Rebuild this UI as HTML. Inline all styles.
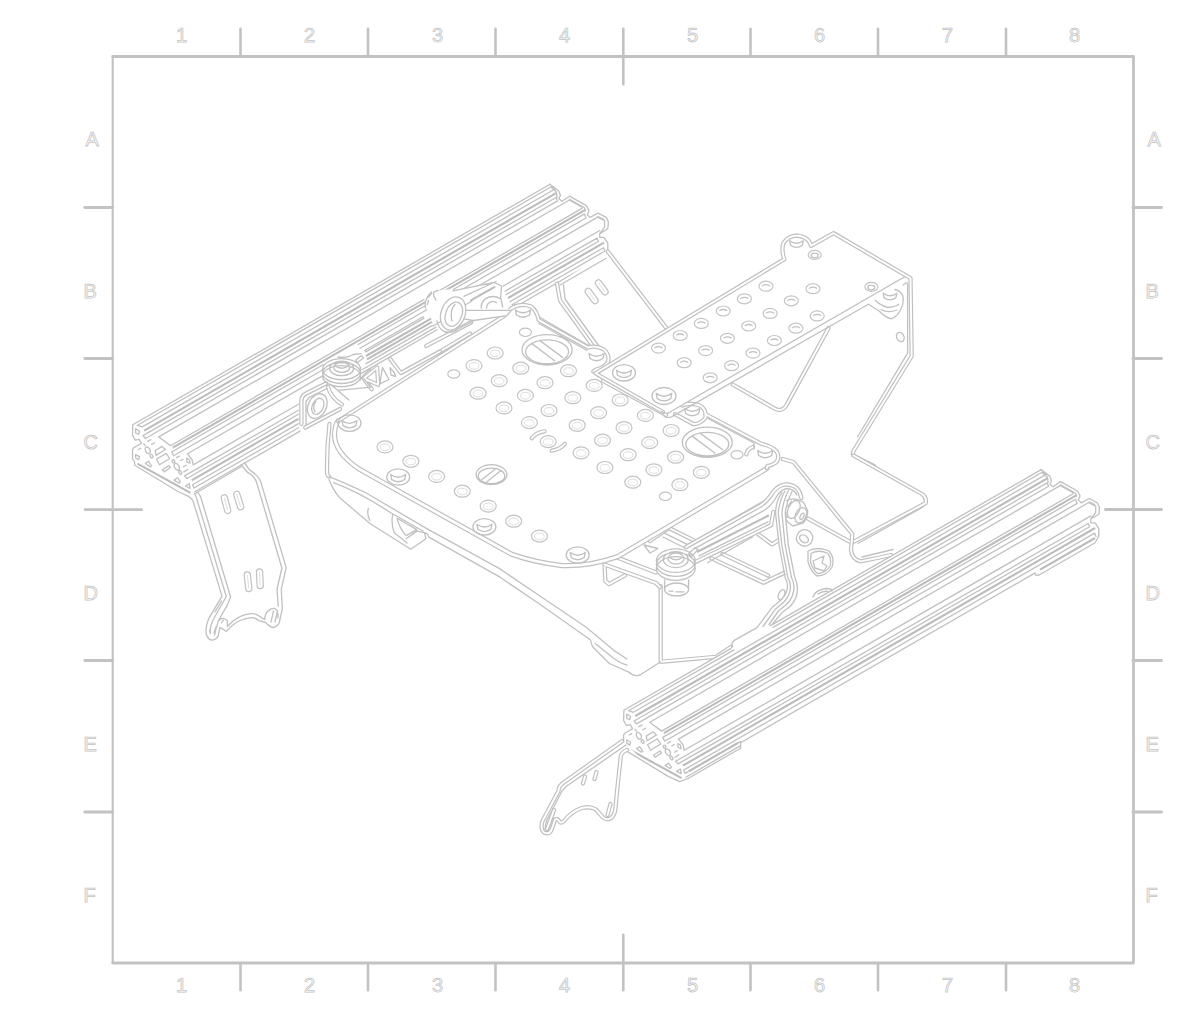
<!DOCTYPE html>
<html><head><meta charset="utf-8">
<style>
html,body{margin:0;padding:0;background:#fff;}
body{width:1190px;height:1020px;overflow:hidden;position:relative;}
svg{position:absolute;left:0;top:0;}
.fr{fill:none;stroke:#c2c2c2;stroke-width:2.6;stroke-linecap:round;stroke-linejoin:round;}
.lb text{font-family:"Liberation Sans",Arial,sans-serif;font-size:20px;fill:#fafafa;stroke:#c4c4c4;stroke-width:0.75;}
.o{fill:none;stroke:#c0c0c0;stroke-width:4.3;stroke-linecap:round;stroke-linejoin:round;}
.i{fill:none;stroke:#fff;stroke-width:1.9;stroke-linecap:round;stroke-linejoin:round;}
.o2{fill:none;stroke:#c0c0c0;stroke-width:5.2;stroke-linecap:round;stroke-linejoin:round;}
.i2{fill:none;stroke:#fff;stroke-width:2.8;stroke-linecap:round;stroke-linejoin:round;}
.h{fill:none;stroke:#c4c4c4;stroke-width:1.2;}
.t{fill:none;stroke:#c1c1c1;stroke-width:1.32;stroke-linecap:round;stroke-linejoin:round;}
.so{fill:none;stroke:#c2c2c2;stroke-width:7.4;stroke-linecap:round;}
.si{fill:none;stroke:#fff;stroke-width:5;stroke-linecap:round;}
.f{fill:none;stroke:#dedede;stroke-width:1;}
.k{fill:none;stroke:#bcbcbc;stroke-width:2.1;stroke-linecap:butt;}
</style></head><body>
<svg width="1190" height="1020" viewBox="0 0 1190 1020">
<!-- FRAME -->
<g class="fr">
<path d="M112.7 56.5H1133.5V963H112.7" stroke-width="2.8"/><path d="M112.7 56.5V963" stroke-width="2.1"/>
<path d="M240.5 28.8V56M368 28.8V56M495.5 28.8V56M623.3 28.8V84.3M750.5 28.8V56M878 28.8V56M1006 28.8V56"/>
<path d="M240.5 963V990.3M368 963V990.3M495.5 963V990.3M623.3 934.8V990.3M750.5 963V990.3M878 963V990.3M1006 963V990.3"/>
<path stroke-width="2.9" d="M84.8 207.5H112.7M84.8 358.5H112.7M85 509.6H141.7M84.8 660.5H112.7M84.8 812H112.7"/>
<path stroke-width="2.9" d="M1133 207.5H1161.5M1133 358.5H1161.5M1105.5 509.5H1161.5M1133 660.5H1161.5M1133 812H1161.5"/>
</g>
<g class="lb">
<text x="176" y="42">1</text><text x="304" y="42">2</text><text x="432" y="42">3</text><text x="559" y="42">4</text><text x="687" y="42">5</text><text x="814" y="42">6</text><text x="942" y="42">7</text><text x="1069" y="42">8</text>
<text x="176" y="992">1</text><text x="304" y="992">2</text><text x="432" y="992">3</text><text x="559" y="992">4</text><text x="687" y="992">5</text><text x="814" y="992">6</text><text x="942" y="992">7</text><text x="1069" y="992">8</text>
<text x="85.4" y="146">A</text><text x="83.6" y="297.5">B</text><text x="83.6" y="448.5">C</text><text x="83.6" y="599.5">D</text><text x="83.6" y="750.5">E</text><text x="83.6" y="902">F</text>
<text x="1147.6" y="146">A</text><text x="1145.6" y="297.5">B</text><text x="1145.6" y="448.5">C</text><text x="1145.6" y="599.5">D</text><text x="1145.6" y="750.5">E</text><text x="1145.6" y="902">F</text>
</g>
<!-- DRAWING -->
<g id="dw">
<g>
<path class="t" d="M132.8 424.8 L549.6 184.5M137.5 425.3 L552.0 186.3M142.3 426.9 L555.0 189.0M143.0 435.6 L556.0 197.5M145.4 438.5 L557.5 200.9M158.7 436.9 L569.5 200.0M170.5 445.7 L582.0 208.4M171.7 452.0 L323.0 364.7M358.0 344.5 L584.5 213.9M173.6 455.8 L322.0 370.2M360.0 348.3 L586.0 218.0M187.4 453.7 L322.0 376.1M470.0 290.8 L598.1 216.9M193.2 464.9 L298.4 404.2M503.0 286.2 L599.7 230.5M184.6 475.9 L298.4 410.3M505.0 291.2 L597.0 238.1M187.0 478.5 L298.4 414.3M506.0 294.6 L598.5 241.3M192.5 484.7 L298.4 423.6M510.0 301.6 L603.5 247.7M194.0 488.0 L298.4 427.8M512.0 304.7 L605.0 251.0M194.8 491.8 L300.0 431.1M514.0 307.7 L607.8 253.6M137.5 425.3 L142.3 426.9M552.0 186.3 L555.0 189.0M143.0 435.6 L145.4 438.5M556.0 197.5 L557.5 200.9M171.7 452.0 L173.6 455.8M584.5 213.9 L586.0 218.0M184.6 475.9 L187.0 478.5M597.0 238.1 L598.5 241.3M192.5 484.7 L194.0 488.0M603.5 247.7 L605.0 251.0M158.7 436.9 L170.5 445.7M187.4 453.7 L192.0 459.5 L193.2 464.9M549.6 184.0 L558.8 191.0 L560.4 195.3 L558.8 198.6 L562.0 201.3 L569.5 196.2 L586.3 205.6 L589.0 210.4 L587.3 214.7 L590.0 217.4 L598.1 213.1 L606.2 217.4 L608.4 221.8 L607.8 228.8 L599.7 233.6 L599.7 237.4 L604.0 237.4 L607.8 243.3 L607.8 250.5M551.5 187.5 L556.3 191.8 L557.0 197.0M569.5 199.3 L584.5 207.8 L585.5 211.0M598.1 216.5 L603.5 219.3M569.5 200.2 L582.0 207.2M598.1 217.4 L604.6 220.7 L604.6 227.1 L599.7 233.6M132.8 424.8 L132.5 435.0 L135.2 440.1 L139.1 439.3 L141.5 443.2 L133.6 447.9 L132.5 449.5 L132.5 458.9 L134.4 461.3 L134.8 465.2 L177.1 491.0 L188.5 496.3M135.6 428.7 L139.5 431.1 L138.7 434.2 L135.6 433.0ZM135.6 454.6 L139.5 456.6 L138.7 459.7 L135.6 457.7ZM155.2 450.7 L161.9 446.4 L165.4 449.5 L156.0 455.4ZM156.4 459.3 L166.2 453.4 L169.7 458.5 L159.5 464.8ZM162.3 469.9 L168.9 465.6 L170.5 467.5 L164.2 471.9ZM145.4 463.2 L148.5 461.3 L151.7 466.0 L150.1 466.8ZM174.0 480.1 L177.5 477.7 L180.3 481.7 L179.1 483.2ZM185.4 486.0 L189.3 483.6 L190.1 488.3ZM186.6 458.1 L189.3 459.7 L190.1 463.2 L187.0 462.1ZM145.8 451.4A2.2 3.4 -30 1 0 149.7 449.2A2.2 3.4 -30 1 0 145.8 451.4ZM174.9 467.9A2.2 3.4 -30 1 0 178.7 465.7A2.2 3.4 -30 1 0 174.9 467.9ZM150.5 456.8A1.2 1.6 -30 1 0 152.5 455.6A1.2 1.6 -30 1 0 150.5 456.8ZM179.3 473.2A1.2 1.6 -30 1 0 181.3 472.0A1.2 1.6 -30 1 0 179.3 473.2ZM172.4 461.9A1.2 1.6 -30 1 0 174.5 460.7A1.2 1.6 -30 1 0 172.4 461.9ZM143.8 444.0 L145.4 445.6M147.7 441.3 L150.9 439.7M151.7 444.4 L154.4 442.8M138.3 449.5 L140.7 448.3M176.4 457.7 L179.5 456.2M180.7 460.5 L183.0 459.3M183.4 466.8 L186.2 465.2M183.8 471.9 L187.7 469.5"/>
<path class="k" d="M144.2 430.6 L556.6 192.8M172.8 447.7 L585.2 209.9M191.7 480.3 L298.4 418.8M508.0 298.0 L604.0 242.6M137.4 463.6 L190.5 492.8"/>
</g>
<g>
<path fill="#fff" stroke="none" d="M608.0 250.0 L666.0 327.6 L614.3 357.9 L594.1 347.8 L561.3 303.7 L558.8 283.5Z"/>
<path class="o" d="M607.8 251.5 L666.0 327.6M557.0 283.7 L560.0 300.4 L595.0 349.0M514.4 306.5 L538.0 318.0 L591.0 348.5"/>
<path class="i" d="M607.8 251.5 L666.0 327.6M557.0 283.7 L560.0 300.4 L595.0 349.0M514.4 306.5 L538.0 318.0 L591.0 348.5"/>
<path class="so" d="M588.3 291.5L595.0 300.5M598.5 283.0L605.0 291.8"/>
<path class="si" d="M588.3 291.5L595.0 300.5M598.5 283.0L605.0 291.8"/>
<path class="f" d="M588.3 291.5L595.0 300.5M598.5 283.0L605.0 291.8"/>
<path class="t" d="M560.0 285.0 L606.3 258.2M563.5 285.0 L565.0 299.0 L599.0 346.0"/>
</g>
<g>
<path fill="#fff" stroke="none" d="M193.5 495.0 L222.0 596.1 L208.7 618.6 L206.3 634.3 L212.6 640.2 L218.0 636.3 L220.0 627.5 L226.4 631.4 L236.2 622.5 L251.9 617.6 L258.7 620.6 L265.6 622.5 L273.4 627.5 L279.3 622.5 L282.3 608.8 L281.3 589.2 L286.2 567.6 L260.5 480.9 L249.7 470.1 L244.3 464.5Z"/>
<path class="so" d="M224.3 497.8L227.7 510.4M236.7 494.2L240.6 506.8M247.3 575.0L248.8 588.5M259.5 572.0L260.2 585.5"/>
<path class="si" d="M224.3 497.8L227.7 510.4M236.7 494.2L240.6 506.8M247.3 575.0L248.8 588.5M259.5 572.0L260.2 585.5"/>
<path class="f" d="M224.3 497.8L227.7 510.4M236.7 494.2L240.6 506.8M247.3 575.0L248.8 588.5M259.5 572.0L260.2 585.5"/>
<path class="t" d="M188.5 496.3Q192 498 193.2 501.5L222 596.1L208.7 618.6Q205 628 206.3 634.3Q208 640 212.6 640.2Q217 639 218 636.3L220 627.5L226.4 631.4Q231 626 236.2 622.5Q244 618 251.9 617.6Q256 618 258.7 620.6L265.6 622.5Q270 627 273.4 627.5Q278 626 279.3 622.5L282.3 608.8L281.3 589.2L286.2 567.6L260.5 480.9Q258 475 249.7 470.1L244.3 462.5M194.5 493.5Q196 495 196.8 499L226.3 596.5L213 620Q209.5 628 210.3 633.5M197.5 492.5Q200 494.5 201 498L230.6 597L227.4 604.9L218.5 620.6Q216 628 214.5 635M218.5 620.6L221.5 618.6Q225 617.5 227.4 620.6L227.4 626.5Q232 621 238.1 617.6Q246 613.5 252.8 613.7Q256.5 614 258.7 615.7L264.6 619.6Q265 614 267.5 611.5Q271 607.5 275 608.5Q278.5 611 278 618M241.1 464.7L247.5 472.3Q254 475.5 256.5 482L281.9 568L277 589.5L278.3 606M194.7 493.8 L241.1 466.7M221.5 623l2-3M271 622l2.5-11M275 622l2.5-11M209.5 632l1.5-6M214 633l2-6M221.5 601l-6.5 11"/>
</g>
<g>
<path fill="#fff" stroke="none" d="M328.9 425.2 L327.1 475.6 L331.4 484.4 L369.2 523.5 L407.0 548.7 L424.7 538.7 L426.0 536.1 L511.7 586.5 L562.1 619.3 L594.9 642.0 L628.3 671.8 L638.4 675.6 L660.7 661.8 L716.1 656.8 L731.2 646.7 L781.7 601.3 L794.3 581.2 L779.1 523.2 L771.6 513.1 L766.8 468.1 L617.8 556.0 L562.1 565.1 L511.7 553.8 L360.4 469.3 L335.2 420.2Z"/>
<path class="o" d="M329.5 424Q326.5 450 327.1 473Q327.3 476 329.1 476.6M660.7 586.2 L660.7 661.8 L716.1 656.8 L731.2 646.7"/>
<path class="i" d="M329.5 424Q326.5 450 327.1 473Q327.3 476 329.1 476.6M660.7 586.2 L660.7 661.8 L716.1 656.8 L731.2 646.7"/>
<path class="t" d="M329.1 476.6Q345 483 365.4 492.5L425.9 528.1L500 568.9L538.8 595.3L585.9 627L614.1 650.6L627 659M424.4 532.6L427.4 534.1L428.9 537.2L500 577.2L538.8 603.5L590.6 640Q591.3 645 592.9 647L609.4 663.5L628.3 671.8Q634 677 640 675L660.7 661.8M595.3 643.5L612 657Q620 663.5 627 665M329.1 479.7Q333 490 339.7 497.8L369.9 523.5L410.8 549.3L425.9 538.7L424.4 532.6L416.8 531.1L406.2 538.7M333.6 482.7Q360 492.5 391.1 513L423 531M368.4 508.4Q366.5 514 369.9 520.5M392.6 514.5Q391 524 394.1 532.6L407 543M397.2 518.2Q399 528 406.2 535.6L416.8 529.6Z"/>
</g>
<g>
<path class="o" d="M604.4 564.5 L656.0 583.0 L659.9 587.2M617.3 557.6 L656.0 572.5M604.6 567.0 L605.4 581.0 L609.0 584.2 L625.0 575.3M669.0 528.0 L696.3 541.6 L770.0 499.0M650.0 541.0 L668.0 528.5M711.5 558.4 L763.5 582.7 L786.0 572.0M722.4 553.9 L768.0 575.5M758.2 534.2 L772.2 544.4 L778.7 540.1"/>
<path class="i" d="M604.4 564.5 L656.0 583.0 L659.9 587.2M617.3 557.6 L656.0 572.5M604.6 567.0 L605.4 581.0 L609.0 584.2 L625.0 575.3M669.0 528.0 L696.3 541.6 L770.0 499.0M650.0 541.0 L668.0 528.5M711.5 558.4 L763.5 582.7 L786.0 572.0M722.4 553.9 L768.0 575.5M758.2 534.2 L772.2 544.4 L778.7 540.1"/>
<path class="t" d="M664.4 533.2 L688.7 545.2M663.0 537.0 L686.0 548.5M644.0 545.0 L650.0 553.0 L658.0 548.5ZM707.5 562.7 L752.8 536.8"/>
</g>
<g>
<path fill="#fff" stroke="none" d="M338.0 421.0 L504.6 315.6 L512.9 308.0 L520.0 305.0 L530.0 306.5 L535.5 312.0 L538.7 320.1 L588.0 347.5 L596.0 346.5 L605.0 350.0 L609.0 357.0 L607.0 365.0 L603.0 380.8 L666.0 414.9 L675.0 414.2 L680.0 405.5 L696.2 403.5 L705.0 409.0 L705.3 414.2 L750.9 438.5 L761.5 443.8 L772.0 447.0 L778.0 454.0 L776.7 462.0 L767.6 465.8 L766.8 468.1 L617.8 556.0 L600.0 561.5 L580.0 564.5 L562.1 565.1 L540.0 562.0 L511.7 553.8 L360.4 469.3 L346.0 460.0 L338.0 449.0 L334.0 437.8ZM466.0 365.6A8.0 6.0 0 1 0 482.0 365.6A8.0 6.0 0 1 0 466.0 365.6ZM487.2 353.0A8.0 6.0 0 1 0 503.2 353.0A8.0 6.0 0 1 0 487.2 353.0ZM512.8 368.2A8.0 6.0 0 1 0 528.8 368.2A8.0 6.0 0 1 0 512.8 368.2ZM491.2 380.7A8.0 6.0 0 1 0 507.2 380.7A8.0 6.0 0 1 0 491.2 380.7ZM470.0 393.2A8.0 6.0 0 1 0 486.0 393.2A8.0 6.0 0 1 0 470.0 393.2ZM517.4 395.4A8.0 6.0 0 1 0 533.4 395.4A8.0 6.0 0 1 0 517.4 395.4ZM496.0 407.9A8.0 6.0 0 1 0 512.0 407.9A8.0 6.0 0 1 0 496.0 407.9ZM521.4 422.6A8.0 6.0 0 1 0 537.4 422.6A8.0 6.0 0 1 0 521.4 422.6ZM537.0 382.7A8.0 6.0 0 1 0 553.0 382.7A8.0 6.0 0 1 0 537.0 382.7ZM541.0 410.5A8.0 6.0 0 1 0 557.0 410.5A8.0 6.0 0 1 0 541.0 410.5ZM377.0 446.9A8.0 6.0 0 1 0 393.0 446.9A8.0 6.0 0 1 0 377.0 446.9ZM402.9 461.3A8.0 6.0 0 1 0 418.9 461.3A8.0 6.0 0 1 0 402.9 461.3ZM428.6 476.4A8.0 6.0 0 1 0 444.6 476.4A8.0 6.0 0 1 0 428.6 476.4ZM454.3 491.2A8.0 6.0 0 1 0 470.3 491.2A8.0 6.0 0 1 0 454.3 491.2ZM480.2 506.1A8.0 6.0 0 1 0 496.2 506.1A8.0 6.0 0 1 0 480.2 506.1ZM505.7 521.2A8.0 6.0 0 1 0 521.7 521.2A8.0 6.0 0 1 0 505.7 521.2ZM531.4 536.1A8.0 6.0 0 1 0 547.4 536.1A8.0 6.0 0 1 0 531.4 536.1ZM590.6 412.7A8.0 6.0 0 1 0 606.6 412.7A8.0 6.0 0 1 0 590.6 412.7ZM569.2 425.3A8.0 6.0 0 1 0 585.2 425.3A8.0 6.0 0 1 0 569.2 425.3ZM594.5 440.2A8.0 6.0 0 1 0 610.5 440.2A8.0 6.0 0 1 0 594.5 440.2ZM573.0 452.8A8.0 6.0 0 1 0 589.0 452.8A8.0 6.0 0 1 0 573.0 452.8ZM596.9 467.5A8.0 6.0 0 1 0 612.9 467.5A8.0 6.0 0 1 0 596.9 467.5ZM560.5 370.7A8.0 6.0 0 1 0 576.5 370.7A8.0 6.0 0 1 0 560.5 370.7ZM586.2 385.4A8.0 6.0 0 1 0 602.2 385.4A8.0 6.0 0 1 0 586.2 385.4ZM564.8 397.7A8.0 6.0 0 1 0 580.8 397.7A8.0 6.0 0 1 0 564.8 397.7ZM612.2 400.0A8.0 6.0 0 1 0 628.2 400.0A8.0 6.0 0 1 0 612.2 400.0ZM637.4 415.4A8.0 6.0 0 1 0 653.4 415.4A8.0 6.0 0 1 0 637.4 415.4ZM616.0 427.7A8.0 6.0 0 1 0 632.0 427.7A8.0 6.0 0 1 0 616.0 427.7ZM663.1 430.5A8.0 6.0 0 1 0 679.1 430.5A8.0 6.0 0 1 0 663.1 430.5ZM641.7 442.6A8.0 6.0 0 1 0 657.7 442.6A8.0 6.0 0 1 0 641.7 442.6ZM620.2 454.7A8.0 6.0 0 1 0 636.2 454.7A8.0 6.0 0 1 0 620.2 454.7ZM667.6 457.2A8.0 6.0 0 1 0 683.6 457.2A8.0 6.0 0 1 0 667.6 457.2ZM645.9 469.8A8.0 6.0 0 1 0 661.9 469.8A8.0 6.0 0 1 0 645.9 469.8ZM624.8 482.2A8.0 6.0 0 1 0 640.8 482.2A8.0 6.0 0 1 0 624.8 482.2ZM693.3 472.3A8.0 6.0 0 1 0 709.3 472.3A8.0 6.0 0 1 0 693.3 472.3ZM671.9 484.7A8.0 6.0 0 1 0 687.9 484.7A8.0 6.0 0 1 0 671.9 484.7ZM540.2 441.6A8.0 6.0 0 1 0 556.2 441.6A8.0 6.0 0 1 0 540.2 441.6ZM447.8 374.0A6.0 4.2 0 1 0 459.8 374.0A6.0 4.2 0 1 0 447.8 374.0ZM519.4 332.3A6.0 4.2 0 1 0 531.4 332.3A6.0 4.2 0 1 0 519.4 332.3ZM659.4 496.3A6.0 4.2 0 1 0 671.4 496.3A6.0 4.2 0 1 0 659.4 496.3ZM731.0 454.8A6.0 4.2 0 1 0 743.0 454.8A6.0 4.2 0 1 0 731.0 454.8ZM338.0 423.1A11.5 8.2 0 1 0 361.0 423.1A11.5 8.2 0 1 0 338.0 423.1ZM386.7 477.0A11.5 8.2 0 1 0 409.7 477.0A11.5 8.2 0 1 0 386.7 477.0ZM472.9 526.8A11.5 8.2 0 1 0 495.9 526.8A11.5 8.2 0 1 0 472.9 526.8ZM566.2 555.0A11.5 8.2 0 1 0 589.2 555.0A11.5 8.2 0 1 0 566.2 555.0ZM522.1 349.8A25.0 15.2 0 1 0 572.1 349.8A25.0 15.2 0 1 0 522.1 349.8ZM682.3 442.2A25.0 15.0 0 1 0 732.3 442.2A25.0 15.0 0 1 0 682.3 442.2ZM476.1 474.6A15.4 10.0 0 1 0 506.9 474.6A15.4 10.0 0 1 0 476.1 474.6Z"/>
<path class="o2" d="M766.8 468.6L617.8 556.5Q590 566.5 562.1 565.6Q535 562.5 511.7 554.3L360.4 469.8Q334 452.5 334.5 434Q335 425 338 421"/>
<path class="i2" d="M766.8 468.6L617.8 556.5Q590 566.5 562.1 565.6Q535 562.5 511.7 554.3L360.4 469.8Q334 452.5 334.5 434Q335 425 338 421"/>
<path class="o" d="M338 421L504.6 315.6Q509 309 514 307Q522 303 531 306.5Q537 311 538.7 320.1L588 347.5M603 380.8L666 414.9M705.3 414.2L761.5 443.8Q772 446 777 452Q780 458 776 462.5Q771 466 767.6 465.8L766.8 468.1M588 347.5Q596 345 604 349.5Q610 355 608 362Q604 368 596 369.5L593.4 371.5M675 414.2L693.2 424Q700 424.5 705.3 418Q707 410 700 405.5Q690 402 682 405.5M746.3 454.4Q747 449 753 447M440.0 351.5 L470.0 333.5M531.8 438.2Q536 432.5 544.6 431.3M551.8 450.6Q560 449.5 564.8 443.8"/>
<path class="i" d="M338 421L504.6 315.6Q509 309 514 307Q522 303 531 306.5Q537 311 538.7 320.1L588 347.5M603 380.8L666 414.9M705.3 414.2L761.5 443.8Q772 446 777 452Q780 458 776 462.5Q771 466 767.6 465.8L766.8 468.1M588 347.5Q596 345 604 349.5Q610 355 608 362Q604 368 596 369.5L593.4 371.5M675 414.2L693.2 424Q700 424.5 705.3 418Q707 410 700 405.5Q690 402 682 405.5M746.3 454.4Q747 449 753 447M440.0 351.5 L470.0 333.5M531.8 438.2Q536 432.5 544.6 431.3M551.8 450.6Q560 449.5 564.8 443.8"/>
<path class="t" d="M539.0 323.5 L587.0 350.5M708.0 418.5 L754.0 443.0 L754.0 449.0M338.0 423.1A11.5 8.2 0 1 0 361.0 423.1A11.5 8.2 0 1 0 338.0 423.1ZM342.0 420.6Q349.5 426.1 357.0 420.6L356.0 425.6Q349.5 430.1 343.0 425.6ZM386.7 477.0A11.5 8.2 0 1 0 409.7 477.0A11.5 8.2 0 1 0 386.7 477.0ZM390.7 474.5Q398.2 480.0 405.7 474.5L404.7 479.5Q398.2 484.0 391.7 479.5ZM472.9 526.8A11.5 8.2 0 1 0 495.9 526.8A11.5 8.2 0 1 0 472.9 526.8ZM476.9 524.3Q484.4 529.8 491.9 524.3L490.9 529.3Q484.4 533.8 477.9 529.3ZM566.2 555.0A11.5 8.2 0 1 0 589.2 555.0A11.5 8.2 0 1 0 566.2 555.0ZM570.2 552.5Q577.7 558.0 585.2 552.5L584.2 557.5Q577.7 562.0 571.2 557.5ZM515.5 310.0Q523.0 315.5 530.5 310.0L529.5 315.0Q523.0 319.5 516.5 315.0ZM589.0 353.5Q596.5 359.0 604.0 353.5L603.0 358.5Q596.5 363.0 590.0 358.5ZM684.7 408.5Q692.2 414.0 699.7 408.5L698.7 413.5Q692.2 418.0 685.7 413.5ZM757.7 450.5Q765.2 456.0 772.7 450.5L771.7 455.5Q765.2 460.0 758.7 455.5ZM522.1 349.8A25.0 15.2 0 1 0 572.1 349.8A25.0 15.2 0 1 0 522.1 349.8ZM525.6 351.8A21.5 11.9 0 1 0 568.6 351.8A21.5 11.9 0 1 0 525.6 351.8ZM531.6 343.4 L554.6 360.7M539.6 340.4 L562.6 357.4M682.3 442.2A25.0 15.0 0 1 0 732.3 442.2A25.0 15.0 0 1 0 682.3 442.2ZM685.8 444.1A21.5 11.7 0 1 0 728.8 444.1A21.5 11.7 0 1 0 685.8 444.1ZM691.8 435.9 L714.8 453.0M699.8 432.9 L722.8 449.7M476.1 474.6A15.4 10.0 0 1 0 506.9 474.6A15.4 10.0 0 1 0 476.1 474.6ZM478.3 475.9A13.2 7.8 0 1 0 504.7 475.9A13.2 7.8 0 1 0 478.3 475.9ZM501.0 470.4 L486.9 481.8M496.1 468.4 L482.0 479.6"/>
<path class="h" d="M466.0 365.6A8.0 6.0 0 1 0 482.0 365.6A8.0 6.0 0 1 0 466.0 365.6ZM487.2 353.0A8.0 6.0 0 1 0 503.2 353.0A8.0 6.0 0 1 0 487.2 353.0ZM512.8 368.2A8.0 6.0 0 1 0 528.8 368.2A8.0 6.0 0 1 0 512.8 368.2ZM491.2 380.7A8.0 6.0 0 1 0 507.2 380.7A8.0 6.0 0 1 0 491.2 380.7ZM470.0 393.2A8.0 6.0 0 1 0 486.0 393.2A8.0 6.0 0 1 0 470.0 393.2ZM517.4 395.4A8.0 6.0 0 1 0 533.4 395.4A8.0 6.0 0 1 0 517.4 395.4ZM496.0 407.9A8.0 6.0 0 1 0 512.0 407.9A8.0 6.0 0 1 0 496.0 407.9ZM521.4 422.6A8.0 6.0 0 1 0 537.4 422.6A8.0 6.0 0 1 0 521.4 422.6ZM537.0 382.7A8.0 6.0 0 1 0 553.0 382.7A8.0 6.0 0 1 0 537.0 382.7ZM541.0 410.5A8.0 6.0 0 1 0 557.0 410.5A8.0 6.0 0 1 0 541.0 410.5ZM377.0 446.9A8.0 6.0 0 1 0 393.0 446.9A8.0 6.0 0 1 0 377.0 446.9ZM402.9 461.3A8.0 6.0 0 1 0 418.9 461.3A8.0 6.0 0 1 0 402.9 461.3ZM428.6 476.4A8.0 6.0 0 1 0 444.6 476.4A8.0 6.0 0 1 0 428.6 476.4ZM454.3 491.2A8.0 6.0 0 1 0 470.3 491.2A8.0 6.0 0 1 0 454.3 491.2ZM480.2 506.1A8.0 6.0 0 1 0 496.2 506.1A8.0 6.0 0 1 0 480.2 506.1ZM505.7 521.2A8.0 6.0 0 1 0 521.7 521.2A8.0 6.0 0 1 0 505.7 521.2ZM531.4 536.1A8.0 6.0 0 1 0 547.4 536.1A8.0 6.0 0 1 0 531.4 536.1ZM590.6 412.7A8.0 6.0 0 1 0 606.6 412.7A8.0 6.0 0 1 0 590.6 412.7ZM569.2 425.3A8.0 6.0 0 1 0 585.2 425.3A8.0 6.0 0 1 0 569.2 425.3ZM594.5 440.2A8.0 6.0 0 1 0 610.5 440.2A8.0 6.0 0 1 0 594.5 440.2ZM573.0 452.8A8.0 6.0 0 1 0 589.0 452.8A8.0 6.0 0 1 0 573.0 452.8ZM596.9 467.5A8.0 6.0 0 1 0 612.9 467.5A8.0 6.0 0 1 0 596.9 467.5ZM560.5 370.7A8.0 6.0 0 1 0 576.5 370.7A8.0 6.0 0 1 0 560.5 370.7ZM586.2 385.4A8.0 6.0 0 1 0 602.2 385.4A8.0 6.0 0 1 0 586.2 385.4ZM564.8 397.7A8.0 6.0 0 1 0 580.8 397.7A8.0 6.0 0 1 0 564.8 397.7ZM612.2 400.0A8.0 6.0 0 1 0 628.2 400.0A8.0 6.0 0 1 0 612.2 400.0ZM637.4 415.4A8.0 6.0 0 1 0 653.4 415.4A8.0 6.0 0 1 0 637.4 415.4ZM616.0 427.7A8.0 6.0 0 1 0 632.0 427.7A8.0 6.0 0 1 0 616.0 427.7ZM663.1 430.5A8.0 6.0 0 1 0 679.1 430.5A8.0 6.0 0 1 0 663.1 430.5ZM641.7 442.6A8.0 6.0 0 1 0 657.7 442.6A8.0 6.0 0 1 0 641.7 442.6ZM620.2 454.7A8.0 6.0 0 1 0 636.2 454.7A8.0 6.0 0 1 0 620.2 454.7ZM667.6 457.2A8.0 6.0 0 1 0 683.6 457.2A8.0 6.0 0 1 0 667.6 457.2ZM645.9 469.8A8.0 6.0 0 1 0 661.9 469.8A8.0 6.0 0 1 0 645.9 469.8ZM624.8 482.2A8.0 6.0 0 1 0 640.8 482.2A8.0 6.0 0 1 0 624.8 482.2ZM693.3 472.3A8.0 6.0 0 1 0 709.3 472.3A8.0 6.0 0 1 0 693.3 472.3ZM671.9 484.7A8.0 6.0 0 1 0 687.9 484.7A8.0 6.0 0 1 0 671.9 484.7ZM540.2 441.6A8.0 6.0 0 1 0 556.2 441.6A8.0 6.0 0 1 0 540.2 441.6ZM447.8 374.0A6.0 4.2 0 1 0 459.8 374.0A6.0 4.2 0 1 0 447.8 374.0ZM519.4 332.3A6.0 4.2 0 1 0 531.4 332.3A6.0 4.2 0 1 0 519.4 332.3ZM659.4 496.3A6.0 4.2 0 1 0 671.4 496.3A6.0 4.2 0 1 0 659.4 496.3ZM731.0 454.8A6.0 4.2 0 1 0 743.0 454.8A6.0 4.2 0 1 0 731.0 454.8Z"/>
<ellipse class="f" cx="474.0" cy="365.9" rx="4.8" ry="3.3"/>
<ellipse class="f" cx="495.2" cy="353.3" rx="4.8" ry="3.3"/>
<ellipse class="f" cx="520.8" cy="368.5" rx="4.8" ry="3.3"/>
<ellipse class="f" cx="499.2" cy="381.0" rx="4.8" ry="3.3"/>
<ellipse class="f" cx="478.0" cy="393.5" rx="4.8" ry="3.3"/>
<ellipse class="f" cx="525.4" cy="395.7" rx="4.8" ry="3.3"/>
<ellipse class="f" cx="504.0" cy="408.2" rx="4.8" ry="3.3"/>
<ellipse class="f" cx="529.4" cy="422.9" rx="4.8" ry="3.3"/>
<ellipse class="f" cx="545.0" cy="383.0" rx="4.8" ry="3.3"/>
<ellipse class="f" cx="549.0" cy="410.8" rx="4.8" ry="3.3"/>
<ellipse class="f" cx="385.0" cy="447.2" rx="4.8" ry="3.3"/>
<ellipse class="f" cx="410.9" cy="461.6" rx="4.8" ry="3.3"/>
<ellipse class="f" cx="436.6" cy="476.7" rx="4.8" ry="3.3"/>
<ellipse class="f" cx="462.3" cy="491.5" rx="4.8" ry="3.3"/>
<ellipse class="f" cx="488.2" cy="506.4" rx="4.8" ry="3.3"/>
<ellipse class="f" cx="513.7" cy="521.5" rx="4.8" ry="3.3"/>
<ellipse class="f" cx="539.4" cy="536.4" rx="4.8" ry="3.3"/>
<ellipse class="f" cx="598.6" cy="413.0" rx="4.8" ry="3.3"/>
<ellipse class="f" cx="577.2" cy="425.6" rx="4.8" ry="3.3"/>
<ellipse class="f" cx="602.5" cy="440.5" rx="4.8" ry="3.3"/>
<ellipse class="f" cx="581.0" cy="453.1" rx="4.8" ry="3.3"/>
<ellipse class="f" cx="604.9" cy="467.8" rx="4.8" ry="3.3"/>
<ellipse class="f" cx="568.5" cy="371.0" rx="4.8" ry="3.3"/>
<ellipse class="f" cx="594.2" cy="385.7" rx="4.8" ry="3.3"/>
<ellipse class="f" cx="572.8" cy="398.0" rx="4.8" ry="3.3"/>
<ellipse class="f" cx="620.2" cy="400.3" rx="4.8" ry="3.3"/>
<ellipse class="f" cx="645.4" cy="415.7" rx="4.8" ry="3.3"/>
<ellipse class="f" cx="624.0" cy="428.0" rx="4.8" ry="3.3"/>
<ellipse class="f" cx="671.1" cy="430.8" rx="4.8" ry="3.3"/>
<ellipse class="f" cx="649.7" cy="442.9" rx="4.8" ry="3.3"/>
<ellipse class="f" cx="628.2" cy="455.0" rx="4.8" ry="3.3"/>
<ellipse class="f" cx="675.6" cy="457.5" rx="4.8" ry="3.3"/>
<ellipse class="f" cx="653.9" cy="470.1" rx="4.8" ry="3.3"/>
<ellipse class="f" cx="632.8" cy="482.5" rx="4.8" ry="3.3"/>
<ellipse class="f" cx="701.3" cy="472.6" rx="4.8" ry="3.3"/>
<ellipse class="f" cx="679.9" cy="485.0" rx="4.8" ry="3.3"/>
<ellipse class="f" cx="548.2" cy="441.9" rx="4.8" ry="3.3"/>
</g>
<g>
<path fill="#fff" stroke="none" d="M595.5 373.3 L784.4 259.2 L783.0 250.0 L790.0 241.0 L802.0 240.0 L810.9 245.3 L833.6 233.2 L910.5 278.1 L904.2 281.0 L666.6 414.0ZM651.5 348.1A7.0 5.0 0 1 0 665.5 348.1A7.0 5.0 0 1 0 651.5 348.1ZM673.2 335.5A7.0 5.0 0 1 0 687.2 335.5A7.0 5.0 0 1 0 673.2 335.5ZM694.3 323.4A7.0 5.0 0 1 0 708.3 323.4A7.0 5.0 0 1 0 694.3 323.4ZM716.3 311.0A7.0 5.0 0 1 0 730.3 311.0A7.0 5.0 0 1 0 716.3 311.0ZM737.4 298.8A7.0 5.0 0 1 0 751.4 298.8A7.0 5.0 0 1 0 737.4 298.8ZM759.0 286.2A7.0 5.0 0 1 0 773.0 286.2A7.0 5.0 0 1 0 759.0 286.2ZM677.2 362.7A7.0 5.0 0 1 0 691.2 362.7A7.0 5.0 0 1 0 677.2 362.7ZM698.6 350.6A7.0 5.0 0 1 0 712.6 350.6A7.0 5.0 0 1 0 698.6 350.6ZM720.4 338.3A7.0 5.0 0 1 0 734.4 338.3A7.0 5.0 0 1 0 720.4 338.3ZM741.7 326.0A7.0 5.0 0 1 0 755.7 326.0A7.0 5.0 0 1 0 741.7 326.0ZM763.1 313.4A7.0 5.0 0 1 0 777.1 313.4A7.0 5.0 0 1 0 763.1 313.4ZM784.3 300.8A7.0 5.0 0 1 0 798.3 300.8A7.0 5.0 0 1 0 784.3 300.8ZM806.0 288.7A7.0 5.0 0 1 0 820.0 288.7A7.0 5.0 0 1 0 806.0 288.7ZM703.2 377.8A7.0 5.0 0 1 0 717.2 377.8A7.0 5.0 0 1 0 703.2 377.8ZM724.6 365.7A7.0 5.0 0 1 0 738.6 365.7A7.0 5.0 0 1 0 724.6 365.7ZM746.0 353.1A7.0 5.0 0 1 0 760.0 353.1A7.0 5.0 0 1 0 746.0 353.1ZM767.4 340.5A7.0 5.0 0 1 0 781.4 340.5A7.0 5.0 0 1 0 767.4 340.5ZM788.9 328.2A7.0 5.0 0 1 0 802.9 328.2A7.0 5.0 0 1 0 788.9 328.2ZM810.2 315.9A7.0 5.0 0 1 0 824.2 315.9A7.0 5.0 0 1 0 810.2 315.9ZM612.5 372.8A11.5 8.2 0 1 0 635.5 372.8A11.5 8.2 0 1 0 612.5 372.8ZM652.0 396.0A12.0 8.5 0 1 0 676.0 396.0A12.0 8.5 0 1 0 652.0 396.0ZM808.2 254.9A6.5 4.5 0 1 0 821.2 254.9A6.5 4.5 0 1 0 808.2 254.9ZM864.9 286.9A6.5 4.5 0 1 0 877.9 286.9A6.5 4.5 0 1 0 864.9 286.9Z"/>
<path class="o" d="M595.5 373.3L784.4 259.2Q781 250 783.5 243Q788 236 797 235.5Q806 236.5 809.5 242Q810.5 244 810.9 245.8L833.6 233.2L910.5 278.1L911.7 356.2L853.8 450.5Q851.5 455 855.5 457L873.9 466M595.5 373.3L663 412M732.8 384.5L775.6 409.1Q783 412 787 404.1L828.6 328"/>
<path class="i" d="M595.5 373.3L784.4 259.2Q781 250 783.5 243Q788 236 797 235.5Q806 236.5 809.5 242Q810.5 244 810.9 245.8L833.6 233.2L910.5 278.1L911.7 356.2L853.8 450.5Q851.5 455 855.5 457L873.9 466M595.5 373.3L663 412M732.8 384.5L775.6 409.1Q783 412 787 404.1L828.6 328"/>
<path class="t" d="M661.5 411.5Q666.6 415 670 412L904.7 276.8M663.5 415.5Q667 419 672 416.6L868.4 304.2M903 285L906.7 282.6M907.6 283.6L907.6 353.2L857.5 437M868.4 304.2L879.2 311Q884 316.5 891 318.9Q897 317 900.5 310Q904.5 303 902.7 295.4Q900 290.5 894.9 289.5M875.3 300.3Q880 305.5 888 307.5Q895 307 898.8 304.2M881 309.5Q888 313.5 897 310M655.0 347.6q3.5 -2 7 0M676.7 335.0q3.5 -2 7 0M697.8 322.9q3.5 -2 7 0M719.8 310.5q3.5 -2 7 0M740.9 298.3q3.5 -2 7 0M762.5 285.7q3.5 -2 7 0M680.7 362.2q3.5 -2 7 0M702.1 350.1q3.5 -2 7 0M723.9 337.8q3.5 -2 7 0M745.2 325.5q3.5 -2 7 0M766.6 312.9q3.5 -2 7 0M787.8 300.3q3.5 -2 7 0M809.5 288.2q3.5 -2 7 0M706.7 377.3q3.5 -2 7 0M728.1 365.2q3.5 -2 7 0M749.5 352.6q3.5 -2 7 0M770.9 340.0q3.5 -2 7 0M792.4 327.7q3.5 -2 7 0M813.7 315.4q3.5 -2 7 0M612.5 372.8A11.5 8.2 0 1 0 635.5 372.8A11.5 8.2 0 1 0 612.5 372.8ZM616.5 370.3Q624.0 375.8 631.5 370.3L630.5 375.3Q624.0 379.8 617.5 375.3ZM652.0 396.0A12.0 8.5 0 1 0 676.0 396.0A12.0 8.5 0 1 0 652.0 396.0ZM656.2 393.4Q664.0 399.1 671.8 393.4L670.8 398.6Q664.0 403.3 657.2 398.6ZM789.7 240.7Q796.5 245.7 803.3 240.7L802.4 245.3Q796.5 249.4 790.6 245.3ZM883.2 293.2Q890.0 298.2 896.8 293.2L895.9 297.8Q890.0 301.9 884.1 297.8ZM867.9 287.5A3.5 2.3 0 1 0 874.9 287.5A3.5 2.3 0 1 0 867.9 287.5ZM811.2 255.5A3.5 2.3 0 1 0 818.2 255.5A3.5 2.3 0 1 0 811.2 255.5ZM897.0 338.5A3.6 4.8 -25 1 0 903.6 335.5A3.6 4.8 -25 1 0 897.0 338.5Z"/>
<path class="h" d="M651.5 348.1A7.0 5.0 0 1 0 665.5 348.1A7.0 5.0 0 1 0 651.5 348.1ZM673.2 335.5A7.0 5.0 0 1 0 687.2 335.5A7.0 5.0 0 1 0 673.2 335.5ZM694.3 323.4A7.0 5.0 0 1 0 708.3 323.4A7.0 5.0 0 1 0 694.3 323.4ZM716.3 311.0A7.0 5.0 0 1 0 730.3 311.0A7.0 5.0 0 1 0 716.3 311.0ZM737.4 298.8A7.0 5.0 0 1 0 751.4 298.8A7.0 5.0 0 1 0 737.4 298.8ZM759.0 286.2A7.0 5.0 0 1 0 773.0 286.2A7.0 5.0 0 1 0 759.0 286.2ZM677.2 362.7A7.0 5.0 0 1 0 691.2 362.7A7.0 5.0 0 1 0 677.2 362.7ZM698.6 350.6A7.0 5.0 0 1 0 712.6 350.6A7.0 5.0 0 1 0 698.6 350.6ZM720.4 338.3A7.0 5.0 0 1 0 734.4 338.3A7.0 5.0 0 1 0 720.4 338.3ZM741.7 326.0A7.0 5.0 0 1 0 755.7 326.0A7.0 5.0 0 1 0 741.7 326.0ZM763.1 313.4A7.0 5.0 0 1 0 777.1 313.4A7.0 5.0 0 1 0 763.1 313.4ZM784.3 300.8A7.0 5.0 0 1 0 798.3 300.8A7.0 5.0 0 1 0 784.3 300.8ZM806.0 288.7A7.0 5.0 0 1 0 820.0 288.7A7.0 5.0 0 1 0 806.0 288.7ZM703.2 377.8A7.0 5.0 0 1 0 717.2 377.8A7.0 5.0 0 1 0 703.2 377.8ZM724.6 365.7A7.0 5.0 0 1 0 738.6 365.7A7.0 5.0 0 1 0 724.6 365.7ZM746.0 353.1A7.0 5.0 0 1 0 760.0 353.1A7.0 5.0 0 1 0 746.0 353.1ZM767.4 340.5A7.0 5.0 0 1 0 781.4 340.5A7.0 5.0 0 1 0 767.4 340.5ZM788.9 328.2A7.0 5.0 0 1 0 802.9 328.2A7.0 5.0 0 1 0 788.9 328.2ZM810.2 315.9A7.0 5.0 0 1 0 824.2 315.9A7.0 5.0 0 1 0 810.2 315.9ZM808.2 254.9A6.5 4.5 0 1 0 821.2 254.9A6.5 4.5 0 1 0 808.2 254.9ZM864.9 286.9A6.5 4.5 0 1 0 877.9 286.9A6.5 4.5 0 1 0 864.9 286.9Z"/>
</g>
<g>
<path fill="#fff" stroke="none" d="M301.4 397.0 L326.0 383.5 L341.0 392.0 L343.0 408.0 L305.2 427.5 L301.4 424.0ZM362.0 350.1 L436.0 307.5 L440.0 329.7 L360.0 375.8ZM322.6 376.2A19.0 10.5 0 1 0 360.6 376.2A19.0 10.5 0 1 0 322.6 376.2ZM322.6 373.0A19.0 10.5 0 1 0 360.6 373.0A19.0 10.5 0 1 0 322.6 373.0ZM322.6 369.2A19.0 10.5 0 1 0 360.6 369.2A19.0 10.5 0 1 0 322.6 369.2ZM424 298Q428 292 438 290.5L452 289L466 300L464 330L446 334L432 326ZM441.8 309.4A12.0 17.0 20 1 0 464.4 317.6A12.0 17.0 20 1 0 441.8 309.4ZM453.1 290.9 L494.1 282.3 L501.6 286.0 L502.7 307.0 L511.3 310.3 L507.0 315.7 L473.6 320.5 L463.9 318.9 L462.0 300.0Z"/>
<path class="o" d="M301.4 424L301.4 400Q302 395.5 306 393.5L326 383.5M305.2 427.5L340 409M328 387Q331 398 342 404.5M363.7 378.4 L377.1 367.6 L378.2 384.9ZM390.1 359.0 L400.9 373.0 L440.0 351.5M363.7 378.4 L371.8 389.2M426.2 345.9L471 322.5"/>
<path class="i" d="M301.4 424L301.4 400Q302 395.5 306 393.5L326 383.5M305.2 427.5L340 409M328 387Q331 398 342 404.5M363.7 378.4 L377.1 367.6 L378.2 384.9ZM390.1 359.0 L400.9 373.0 L440.0 351.5M363.7 378.4 L371.8 389.2M426.2 345.9L471 322.5"/>
<path class="t" d="M306.0 424.5 L306.0 401.5 L309.0 397.5 L327.0 388.5M309.1 402.3A9.0 12.8 25 1 0 325.5 409.9A9.0 12.8 25 1 0 309.1 402.3ZM312.8 404.0A5.5 8.5 25 1 0 322.8 408.6A5.5 8.5 25 1 0 312.8 404.0ZM316 401Q312 406 315 412M332.0 385.5 L349.0 400.0M338.3 390.3 L370.7 387.2 L363.7 378.4M365.0 350.2 L423.0 316.8 L423.8 318.4 L365.8 351.9ZM366.0 363.6 L432.0 325.6M362.0 369.7 L436.0 327.1M360.0 374.1 L437.0 329.7M355.6 360.2 L361.4 355.6 L363.4 358.0 L357.6 362.6ZM338 357Q348 358 353 354.5L361 353.6M360 380.5Q363 374 371 369M322.6 376.2A19.0 10.5 0 1 0 360.6 376.2A19.0 10.5 0 1 0 322.6 376.2ZM322.6 373.0A19.0 10.5 0 1 0 360.6 373.0A19.0 10.5 0 1 0 322.6 373.0ZM322.6 369.2A19.0 10.5 0 1 0 360.6 369.2A19.0 10.5 0 1 0 322.6 369.2ZM329.6 368.4A12.0 7.3 0 1 0 353.6 368.4A12.0 7.3 0 1 0 329.6 368.4ZM333.8 367.4A8.0 4.9 0 1 0 349.8 367.4A8.0 4.9 0 1 0 333.8 367.4ZM335 366Q341.6 370.5 348.5 366M379.8 383.8 L382.5 367.6 L389.0 379.5ZM390.0 367.6 L394.5 373.0 L395.5 376.5 L391.0 375.0ZM436 300Q430 291.5 438 290.5M425.5 308Q424 299 431.6 292M428.5 297l3-3.5M427.5 304.5l1-4M441.8 309.4A12.0 17.0 20 1 0 464.4 317.6A12.0 17.0 20 1 0 441.8 309.4ZM446.3 311.5A8.0 11.5 20 1 0 461.3 316.9A8.0 11.5 20 1 0 446.3 311.5ZM455 304.5Q449.5 310 452 321M437 321Q438 328 444 331.5Q452 334 458 329L473.6 321M433 326L440 322M453.1 290.9 L494.1 282.3 L501.6 286.0 L500.6 297.3 L502.7 307.0M463.9 296.3 L496.0 281.5M466.0 304.5 L472.0 301.0M481.2 308.1Q481 299.5 489 297Q496 295.5 499.5 298.4M486.5 308Q487 302.5 492 301.7Q495 301.3 496.3 302.5M467.1 310.3 L511.3 310.3 L507.0 315.7 L473.6 320.5 L463.9 318.9"/>
<path class="k" d="M366.0 356.0 L431.0 318.6M367.0 359.3 L432.0 321.8M470.4 300.6 L495.2 286.6"/>
</g>
<g>
<path fill="#fff" stroke="none" d="M793.4 462.0 L852.2 533.8 L854.4 541.4 L925.6 503.2 L925.6 497.0 L853.5 457.0Z"/>
<path class="o" d="M782.8 459L793.4 462L852.2 533.8M808.1 518.6L849.1 541.4M853.5 455.5L922 494Q927 497.5 925.6 503.2L854.4 541.4M852.2 535.3L851 550Q852 559 860.4 561.4Q876 558.5 891 555"/>
<path class="i" d="M782.8 459L793.4 462L852.2 533.8M808.1 518.6L849.1 541.4M853.5 455.5L922 494Q927 497.5 925.6 503.2L854.4 541.4M852.2 535.3L851 550Q852 559 860.4 561.4Q876 558.5 891 555"/>
<path class="t" d="M858.0 543.5 L923.0 507.0M862.0 557.0 L893.0 549.5"/>
</g>
<g>
<path fill="#fff" stroke="none" d="M686.0 546.8 L760.4 505.6 L771.2 494.8 L781.9 485.1 L789.5 484.0 L797.0 488.3 L801.3 497.0 L803.0 510.0 L790.0 522.0 L771.2 525.0 L753.9 533.6 L696.0 562.0ZM775.5 513.0 L785.2 513.0 L794.9 577.8 L797.0 585.0 L794.0 598.0 L781.8 610.8 L771.6 625.0 L756.9 627.7 L772.0 607.6 L785.0 596.1 L787.5 582.0 L779.0 545.0ZM779.0 593.4A2.8 4.6 25 1 0 784.0 595.8A2.8 4.6 25 1 0 779.0 593.4ZM785.2 500.2L794 497.5L803.5 502.3L807.8 511L803.5 522.8L792.7 526L785.2 518.5ZM796.1 513.1A5.2 7.6 25 1 0 805.5 517.5A5.2 7.6 25 1 0 796.1 513.1ZM664.6 578H688.6V590H664.6ZM664.6 589.5A12.0 6.5 0 1 0 688.6 589.5A12.0 6.5 0 1 0 664.6 589.5ZM656.4 568.5A19.4 11.8 0 1 0 695.2 568.5A19.4 11.8 0 1 0 656.4 568.5ZM656.4 564.5A19.4 11.8 0 1 0 695.2 564.5A19.4 11.8 0 1 0 656.4 564.5ZM656.4 560.6A19.4 11.8 0 1 0 695.2 560.6A19.4 11.8 0 1 0 656.4 560.6Z"/>
<path class="o" d="M686 547L760.4 505.6Q766.5 502 771.2 494.8Q776 487 783 484.8Q791 483.5 797 488.3Q800.5 492 801.3 498M696 561.7L753.9 533.6L771.2 525M773.3 512L771.2 524"/>
<path class="i" d="M686 547L760.4 505.6Q766.5 502 771.2 494.8Q776 487 783 484.8Q791 483.5 797 488.3Q800.5 492 801.3 498M696 561.7L753.9 533.6L771.2 525M773.3 512L771.2 524"/>
<path class="t" d="M694 548.8L764.7 510Q772 505 777 496Q781 489.5 787 488.5Q794 489 797 495M699.0 555.8 L767.9 521.8M688.7 553.8 L694.8 547.6 L697.9 549.6 L691.8 556.1ZM782 492.6Q776 500 775.5 513L779.2 545.5L785.2 577.8Q788.5 583 787 590Q785 597.5 778 602.5L772 607.6L756.9 627.7L734.2 640.3Q731 643.5 731.5 647.5M785 491Q779.5 500 778.2 513L781.9 545.5L787.9 577.8Q791.5 583 790 591Q788 599.5 781 604.5L775 609.6L763 626.5M788.5 490.5Q783 501 781.9 513L785.2 545.5L791.6 577.8Q795 584 793.5 592Q791.5 601 784 606.5L778.5 611L769 624.5M792 491.5Q786.5 502 785.2 513L788.4 545.5L794.9 577.8Q798.5 585 797 593.5Q795 603 787.5 608.5L781.8 612.8L772.5 624M779.0 593.4A2.8 4.6 25 1 0 784.0 595.8A2.8 4.6 25 1 0 779.0 593.4ZM786.5 500.5Q794 496.5 803.5 502.3L807.8 511Q807.5 518 803.5 522.8L792.7 526Q788 523.5 785.5 518.5M788.8 507.2A5.5 9.5 25 1 0 798.8 511.8A5.5 9.5 25 1 0 788.8 507.2ZM796.1 513.1A5.2 7.6 25 1 0 805.5 517.5A5.2 7.6 25 1 0 796.1 513.1ZM800.5 515.6A1.7 2.8 25 1 0 803.5 517.0A1.7 2.8 25 1 0 800.5 515.6ZM788 506.5l3.5-5.5M787 512l0 5.5M797.1 535.2A8.0 7.5 20 1 0 812.1 540.6A8.0 7.5 20 1 0 797.1 535.2ZM800.1 536.0A4.8 3.5 35 1 0 807.9 541.6A4.8 3.5 35 1 0 800.1 536.0ZM808 551Q818 546 829 551Q835 558 832 567Q827 576 817 576Q811 572 808 562ZM811 553.5Q819 549 828 553.5Q832 559 830 566Q826 573 817.5 573.5Q813 570 810.5 562ZM813 561L824 556L822 563L827 566L824 571L815 568ZM664.6 589.5A12.0 6.5 0 1 0 688.6 589.5A12.0 6.5 0 1 0 664.6 589.5ZM664.6 580V589.5M688.6 580V589.5M669 591.2h4M676 591.8h8M656.4 568.5A19.4 11.8 0 1 0 695.2 568.5A19.4 11.8 0 1 0 656.4 568.5ZM656.4 564.5A19.4 11.8 0 1 0 695.2 564.5A19.4 11.8 0 1 0 656.4 564.5ZM656.4 560.6A19.4 11.8 0 1 0 695.2 560.6A19.4 11.8 0 1 0 656.4 560.6ZM663.3 559.6A12.5 8.0 0 1 0 688.3 559.6A12.5 8.0 0 1 0 663.3 559.6ZM668.0 558.6A8.0 5.5 0 1 0 684.0 558.6A8.0 5.5 0 1 0 668.0 558.6ZM669 557Q676 562.5 683 557"/>
<path class="k" d="M697.0 552.0 L769.0 515.3"/>
</g>
<g transform="translate(491.1 285.4)">
<path fill="#fff" stroke="none" d="M132.8 424.8 L549.6 184.0 L608.4 221.8 L607.8 253.5 L194.8 491.8 L134.8 465.2Z"/>
<path class="t" d="M132.8 424.8 L240.0 363.0M279.0 340.5 L549.6 184.5M137.5 425.3 L243.0 364.5M282.0 342.0 L552.0 186.3M142.3 426.9 L555.0 189.0M143.0 435.6 L556.0 197.5M145.4 438.5 L557.5 200.9M158.7 436.9 L569.5 200.0M170.5 445.7 L582.0 208.4M171.7 452.0 L584.5 213.9M173.6 455.8 L586.0 218.0M187.4 453.7 L598.1 216.9M193.2 464.9 L599.7 230.5M184.6 475.9 L597.0 238.1M187.0 478.5 L598.5 241.3M192.5 484.7 L603.5 247.7M194.0 488.0 L249.5 456.0M194.8 491.8 L249.5 460.2M137.5 425.3 L142.3 426.9M552.0 186.3 L555.0 189.0M143.0 435.6 L145.4 438.5M556.0 197.5 L557.5 200.9M171.7 452.0 L173.6 455.8M584.5 213.9 L586.0 218.0M184.6 475.9 L187.0 478.5M597.0 238.1 L598.5 241.3M192.5 484.7 L194.0 488.0M603.5 247.7 L605.0 251.0M158.7 436.9 L170.5 445.7M187.4 453.7 L192.0 459.5 L193.2 464.9M549.6 184.0 L558.8 191.0 L560.4 195.3 L558.8 198.6 L562.0 201.3 L569.5 196.2 L586.3 205.6 L589.0 210.4 L587.3 214.7 L590.0 217.4 L598.1 213.1 L606.2 217.4 L608.4 221.8 L607.8 228.8 L599.7 233.6 L599.7 237.4 L604.0 237.4 L607.8 243.3 L607.8 250.5M551.5 187.5 L556.3 191.8 L557.0 197.0M569.5 199.3 L584.5 207.8 L585.5 211.0M598.1 216.5 L603.5 219.3M569.5 200.2 L582.0 207.2M598.1 217.4 L604.6 220.7 L604.6 227.1 L599.7 233.6M132.8 424.8 L132.5 435.0 L135.2 440.1 L139.1 439.3 L141.5 443.2 L133.6 447.9 L132.5 449.5 L132.5 458.9 L134.4 461.3 L134.8 465.2 L177.1 491.0 L188.5 496.3M135.6 428.7 L139.5 431.1 L138.7 434.2 L135.6 433.0ZM135.6 454.6 L139.5 456.6 L138.7 459.7 L135.6 457.7ZM155.2 450.7 L161.9 446.4 L165.4 449.5 L156.0 455.4ZM156.4 459.3 L166.2 453.4 L169.7 458.5 L159.5 464.8ZM162.3 469.9 L168.9 465.6 L170.5 467.5 L164.2 471.9ZM145.4 463.2 L148.5 461.3 L151.7 466.0 L150.1 466.8ZM174.0 480.1 L177.5 477.7 L180.3 481.7 L179.1 483.2ZM185.4 486.0 L189.3 483.6 L190.1 488.3ZM186.6 458.1 L189.3 459.7 L190.1 463.2 L187.0 462.1ZM145.8 451.4A2.2 3.4 -30 1 0 149.7 449.2A2.2 3.4 -30 1 0 145.8 451.4ZM174.9 467.9A2.2 3.4 -30 1 0 178.7 465.7A2.2 3.4 -30 1 0 174.9 467.9ZM150.5 456.8A1.2 1.6 -30 1 0 152.5 455.6A1.2 1.6 -30 1 0 150.5 456.8ZM179.3 473.2A1.2 1.6 -30 1 0 181.3 472.0A1.2 1.6 -30 1 0 179.3 473.2ZM172.4 461.9A1.2 1.6 -30 1 0 174.5 460.7A1.2 1.6 -30 1 0 172.4 461.9ZM143.8 444.0 L145.4 445.6M147.7 441.3 L150.9 439.7M151.7 444.4 L154.4 442.8M138.3 449.5 L140.7 448.3M176.4 457.7 L179.5 456.2M180.7 460.5 L183.0 459.3M183.4 466.8 L186.2 465.2M183.8 471.9 L187.7 469.5M197.0 493.1 L249.5 462.8 L249.5 457.3 L544.0 287.5 L545.0 290.1 L548.0 289.6 L604.0 257.3 L607.5 251.1 L607.8 243.3M188.5 496.3 L197.0 493.1"/>
<path class="k" d="M144.2 430.6 L556.6 192.8M172.8 447.7 L585.2 209.9M191.7 480.3 L604.0 242.6M137.4 463.6 L190.5 492.8M549.0 284.3 L604.0 252.6M198.0 485.7 L247.0 457.5"/>
</g>
<g>
<path class="t" d="M813 597Q815 590 826 588.5Q832 588.5 832 591M818 594Q823 590.5 828 591.5"/>
</g>
<g>
<path fill="#fff" stroke="none" d="M622.0 741.2 L559.0 786.5 L541.3 823.1 L548.9 833.2 L555.2 819.3 L561.5 823.1 L580.4 808.0 L595.5 809.2 L605.6 819.3 L614.5 814.3 L617.0 791.6 L620.8 756.3 L627.1 750.0 L640.0 757.0Z"/>
<path class="o" d="M622 741.2L563 783Q558.5 786.5 558.5 791L542.5 821Q540 829 544 832.5Q549 835 551.5 830L555.2 819.3Q558 818.5 559.5 821.5Q561 824 564 821Q572 811 582 808Q590 806 596 809.5L603 817.5Q607 821 611 818Q615 815 615.5 808L617 791.6L620.8 756.3Q622 751.5 627.1 750M547 829l7-19M607.5 815l3-11M583 783.5l2-7M594.5 779l2-7"/>
<path class="i" d="M622 741.2L563 783Q558.5 786.5 558.5 791L542.5 821Q540 829 544 832.5Q549 835 551.5 830L555.2 819.3Q558 818.5 559.5 821.5Q561 824 564 821Q572 811 582 808Q590 806 596 809.5L603 817.5Q607 821 611 818Q615 815 615.5 808L617 791.6L620.8 756.3Q622 751.5 627.1 750M547 829l7-19M607.5 815l3-11M583 783.5l2-7M594.5 779l2-7"/>
<path class="t" d="M626.0 745.0 L566.0 786.5 L562.0 791.0 L546.5 821.0 L545.0 829.0"/>
</g>
</g>
</svg>
</body></html>
